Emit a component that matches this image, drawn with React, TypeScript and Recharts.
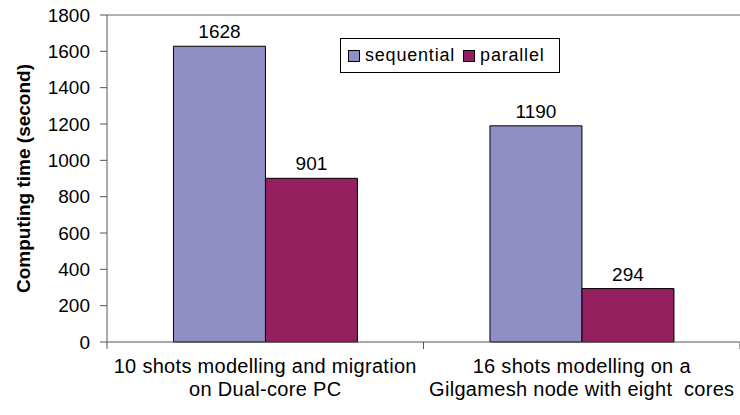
import { BarChart, Bar, XAxis, YAxis, LabelList, Legend, ReferenceLine, Label } from "recharts";

const categoryLines = [
  ["10 shots modelling and migration", "on Dual-core PC"],
  ["16 shots modelling on a", "Gilgamesh node with eight\u00a0 cores"],
];
const seriesOrder = ["sequential", "parallel"];
const sequentialTimes = [1628, 1190];
const parallelTimes = [901, 294];
const yTicks = [0, 200, 400, 600, 800, 1000, 1200, 1400, 1600, 1800];

const SEQ_COLOR = "#8F8FC5";
const PAR_COLOR = "#941F5E";
const FONT = "'Liberation Sans', Arial, sans-serif";

const data = categoryLines.map((lines, i) => ({
  name: lines.join("\n"),
  sequential: sequentialTimes[i],
  parallel: parallelTimes[i],
}));

function CategoryTick(props: any) {
  const { x, y, payload, width, visibleTicksCount } = props;
  const band = (width || 633) / (visibleTicksCount || 2);
  const lines = String(payload.value).split("\n");
  return (
    <g>
      <line x1={x - band / 2} x2={x - band / 2} y1={y} y2={y + 7} stroke="#555" />
      <line x1={x + band / 2} x2={x + band / 2} y1={y} y2={y + 7} stroke="#555" />
      {lines.map((line, i) => (
        <text
          key={i}
          x={x}
          y={y + 31 + i * 23}
          textAnchor="middle"
          fontSize={20}
          letterSpacing={0.3}
          fontFamily={FONT}
          fill="#000"
        >
          {line}
        </text>
      ))}
    </g>
  );
}

function LegendBox(props: any) {
  const items = [...(props.payload || [])].sort(
    (a: any, b: any) => seriesOrder.indexOf(a.value) - seriesOrder.indexOf(b.value)
  );
  return (
    <div
      style={{
        border: "1px solid #000",
        height: 33,
        display: "flex",
        alignItems: "center",
        paddingLeft: 7,
        fontFamily: FONT,
        fontSize: 18,
        letterSpacing: 0.8,
        background: "#fff",
      }}
    >
      {items.map((item: any) => (
        <div key={item.value} style={{ display: "flex", alignItems: "center", marginRight: 8 }}>
          <span
            style={{
              width: 10,
              height: 10,
              border: "1px solid #000",
              background: item.color,
              marginRight: 5,
              display: "inline-block",
            }}
          />
          <span>{item.value}</span>
        </div>
      ))}
    </div>
  );
}

export default function App() {
  return (
    <div style={{ width: 740, height: 415, background: "#fff" }}>
      <style>{"body{margin:0}"}</style>
      <BarChart
        width={740}
        height={415}
        data={data}
        margin={{ top: 15, right: 0, left: 0, bottom: 0 }}
        barCategoryGap="21%"
        barGap={0}
      >
        <ReferenceLine y={1800} stroke="#999" strokeWidth={1.5} />
        <XAxis
          dataKey="name"
          height={73}
          tickLine={false}
          tickSize={0}
          tickMargin={0}
          axisLine={{ stroke: "#555" }}
          tick={<CategoryTick />}
          interval={0}
        />
        <YAxis
          width={107}
          domain={[0, 1800]}
          ticks={yTicks}
          tickSize={7}
          tickMargin={10}
          axisLine={{ stroke: "#555" }}
          tickLine={{ stroke: "#555" }}
          tick={{ fill: "#000", fontSize: 19, fontFamily: FONT }}
          interval={0}
        >
          <Label
            value="Computing time (second)"
            angle={-90}
            position="center"
            dx={-30}
            style={{ fontWeight: "bold", fontSize: 19, fontFamily: FONT, fill: "#000" }}
          />
        </YAxis>
        <Legend
          layout="horizontal"
          verticalAlign="middle"
          align="center"
          width={220}
          wrapperStyle={{ left: 340, top: 38, width: 220 }}
          content={<LegendBox />}
        />
        <Bar dataKey="sequential" fill={SEQ_COLOR} stroke="#000" strokeWidth={1} isAnimationActive={false}>
          <LabelList dataKey="sequential" position="top" offset={8} fill="#000" fontSize={19} fontFamily={FONT} />
        </Bar>
        <Bar dataKey="parallel" fill={PAR_COLOR} stroke="#000" strokeWidth={1} isAnimationActive={false}>
          <LabelList dataKey="parallel" position="top" offset={8} fill="#000" fontSize={19} fontFamily={FONT} />
        </Bar>
      </BarChart>
    </div>
  );
}
